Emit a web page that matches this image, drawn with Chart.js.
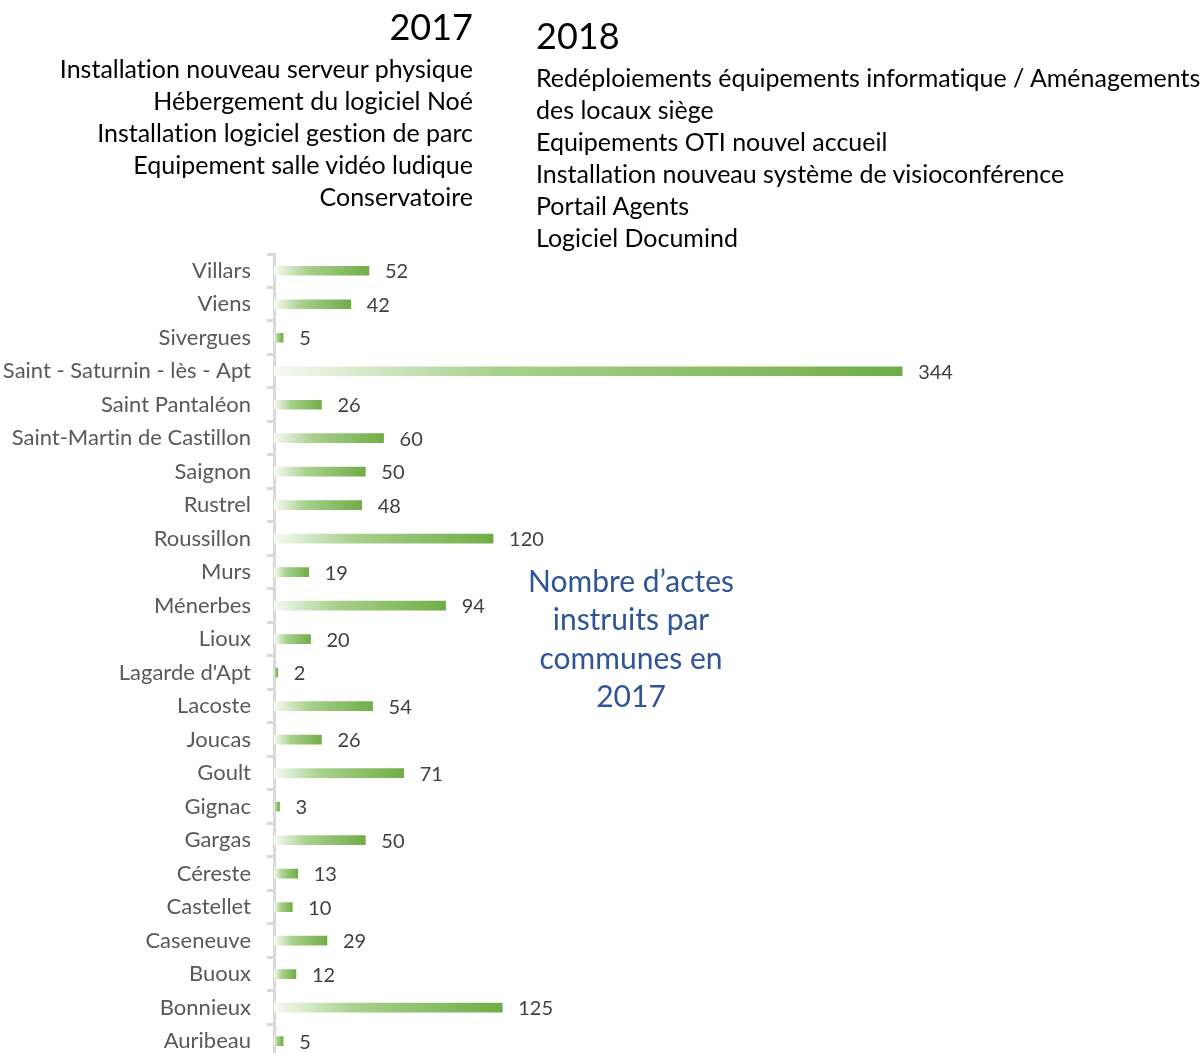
<!DOCTYPE html>
<html>
<head>
<meta charset="utf-8">
<script src="https://cdn.jsdelivr.net/npm/chart.js@4"></script>
<style>
  body { margin: 0; overflow: hidden; background: #fff; font-family: Lato, "Open Sans", sans-serif; font-variant-ligatures: none; }
  #barChart { position: absolute; left: 0; top: 0; }
  .txt { position: absolute; white-space: nowrap; color: #000; }
  #y2017 { right: 731px; top: 4px; font-size: 36px; line-height: 44px; text-align: right; }
  #l2017 { right: 731px; top: 52px; font-size: 25px; line-height: 32px; text-align: right; }
  #y2018 { left: 536px; top: 13px; font-size: 36px; line-height: 44px; }
  #l2018 { left: 536px; top: 61px; font-size: 25px; line-height: 32px; }
  #title { left: 461px; width: 340px; top: 561px; font-size: 30px; line-height: 38.3px; text-align: center; color: #2f5597; white-space: normal; }
</style>
</head>
<body>
<canvas id="barChart" width="1204" height="1087"></canvas>
<div class="txt" id="y2017"></div>
<div class="txt" id="l2017"></div>
<div class="txt" id="y2018"></div>
<div class="txt" id="l2018"></div>
<div class="txt" id="title"></div>
<script>
  // communes, top to bottom as in the picture
  const communes = [
    'Villars', 'Viens', 'Sivergues', 'Saint - Saturnin - lès - Apt', 'Saint Pantaléon',
    'Saint-Martin de Castillon', 'Saignon', 'Rustrel', 'Roussillon', 'Murs', 'Ménerbes',
    'Lioux', "Lagarde d'Apt", 'Lacoste', 'Joucas', 'Goult', 'Gignac', 'Gargas', 'Céreste',
    'Castellet', 'Caseneuve', 'Buoux', 'Bonnieux', 'Auribeau'
  ];
  const actes = [52, 42, 5, 344, 26, 60, 50, 48, 120, 19, 94, 20, 2, 54, 26, 71, 3, 50, 13, 10, 29, 12, 125, 5];

  const items2017 = [
    'Installation nouveau serveur physique',
    'Hébergement du logiciel Noé',
    'Installation logiciel gestion de parc',
    'Equipement salle vidéo ludique',
    'Conservatoire'
  ];
  const items2018 = [
    'Redéploiements équipements informatique / Aménagements',
    'des locaux siège',
    'Equipements OTI nouvel accueil',
    'Installation nouveau système de visioconférence',
    'Portail Agents',
    'Logiciel Documind'
  ];
  const titleLines = ['Nombre d’actes', 'instruits par', 'communes en', '2017'];

  document.getElementById('y2017').textContent = '2017';
  document.getElementById('y2018').textContent = '2018';
  document.getElementById('l2017').innerHTML = items2017.join('<br>');
  document.getElementById('l2018').innerHTML = items2018.join('<br>');
  document.getElementById('title').innerHTML = titleLines.join('<br>');

  const FONT = 'Lato, "Open Sans", sans-serif';

  function barGradient(ctx) {
    const chart = ctx.chart;
    if (!chart.chartArea || ctx.raw === undefined) return '#70ad47';
    const x = chart.scales.x;
    const x0 = x.getPixelForValue(0);
    const x1 = x.getPixelForValue(ctx.raw);
    const g = chart.ctx.createLinearGradient(x0, 0, Math.max(x1, x0 + 1), 0);
    g.addColorStop(0, '#f6faf3');
    g.addColorStop(0.35, '#a9d18e');
    g.addColorStop(1, '#70ad47');
    return g;
  }

  // value labels right of each bar
  const valueLabels = {
    id: 'valueLabels',
    afterDatasetsDraw(chart) {
      const c = chart.ctx;
      const meta = chart.getDatasetMeta(0);
      c.save();
      c.font = '20px ' + FONT;
      c.fillStyle = '#404040';
      c.textAlign = 'left';
      c.textBaseline = 'middle';
      meta.data.forEach((bar, i) => {
        c.fillText(String(actes[i]), bar.x + 16, bar.y + 1);
      });
      c.restore();
    }
  };

  new Chart(document.getElementById('barChart'), {
    type: 'bar',
    data: {
      labels: communes,
      datasets: [{
        data: actes,
        backgroundColor: barGradient,
        barThickness: 9,
        borderWidth: 0
      }]
    },
    options: {
      indexAxis: 'y',
      responsive: false,
      animation: false,
      layout: { padding: { top: 254, bottom: 3, right: 17, left: 0 } },
      plugins: { legend: { display: false }, tooltip: { enabled: false } },
      scales: {
        x: { display: false, min: 0, max: 500 },
        y: {
          afterFit(scale) { scale.width = 274; },
          border: { display: true, color: '#d9d9d9', width: 3 },
          grid: { drawOnChartArea: false, drawTicks: true, tickLength: 7, color: '#d9d9d9', lineWidth: 3 },
          ticks: { color: '#595959', padding: 16, font: { family: FONT, size: 22 } }
        }
      }
    },
    plugins: [valueLabels]
  });
</script>
</body>
</html>
